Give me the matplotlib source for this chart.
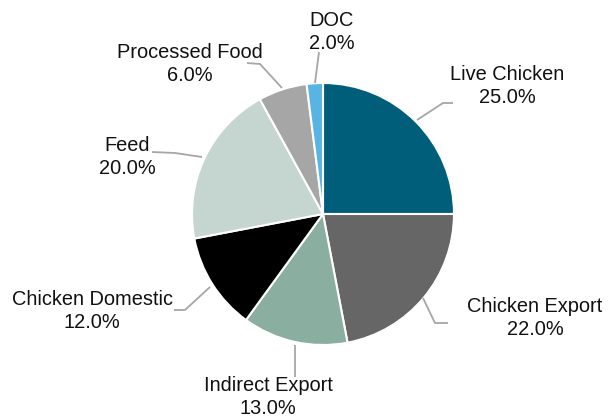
import matplotlib.pyplot as plt

plt.rcParams['font.family'] = ['Liberation Sans', 'DejaVu Sans']

labels = ['Live Chicken', 'Chicken Export', 'Indirect Export', 'Chicken Domestic',
          'Feed', 'Processed Food', 'DOC']
shares = [25.0, 22.0, 13.0, 12.0, 20.0, 6.0, 2.0]
colors = ['#005E7B', '#666666', '#8AAE9F', '#000000', '#C5D6D0', '#A6A6A6', '#58B5E3']

# label centres (pixel coords, y from top) and leader line points
label_pos = [(507, 86), (535, 318), (268, 397), (92, 311), (127, 157), (190, 64), (332, 32)]
leaders = [
    [(417, 120), (443, 103), (453, 103)],
    [(423, 298), (435, 323), (448, 323)],
    [(295, 345), (295, 377)],
    [(210, 287), (185, 310), (174, 310)],
    [(202, 157), (175, 153), (152, 152)],
    [(282, 88), (260, 64), (247, 63)],
    [(315, 83), (319, 52)],
]

W, H = 613, 417
fig = plt.figure(figsize=(W / 100, H / 100), dpi=100)
ax = fig.add_axes([0, 0, 1, 1])

ax.pie(shares, colors=colors, startangle=90, counterclock=False,
       center=(323, H - 214), radius=131,
       wedgeprops=dict(edgecolor='white', linewidth=1.5))

for pts in leaders:
    xs = [p[0] for p in pts]
    ys = [H - p[1] for p in pts]
    ax.plot(xs, ys, color='#A6A6A6', lw=1.3, solid_capstyle='butt')

for lab, val, (x, y) in zip(labels, shares, label_pos):
    ax.text(x, H - y, f'{lab}\n{val:.1f}%', ha='center', va='center',
            fontsize=14.4, color='#111111', linespacing=1.25)

ax.set_xlim(0, W)
ax.set_ylim(0, H)
ax.set_aspect('equal')
ax.axis('off')

fig.savefig('out.png', dpi=100)
